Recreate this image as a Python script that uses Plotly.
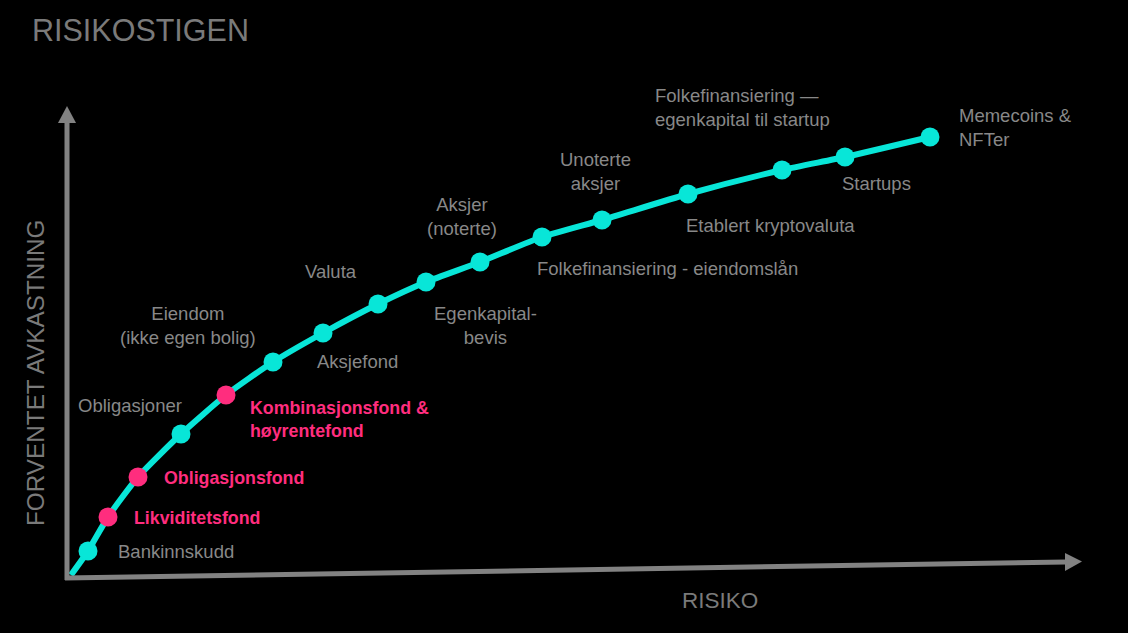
import plotly.graph_objects as go

# ---- data (risk, expected return) in arbitrary units ----
names = ["Bankinnskudd", "Likviditetsfond", "Obligasjonsfond", "Obligasjoner",
         "Kombinasjonsfond &<br>høyrentefond", "Eiendom<br>(ikke egen bolig)", "Aksjefond",
         "Valuta", "Egenkapital-<br>bevis", "Aksjer<br>(noterte)",
         "Folkefinansiering - eiendomslån", "Unoterte<br>aksjer", "Etablert kryptovaluta",
         "Folkefinansiering —<br>egenkapital til startup", "Startups", "Memecoins &<br>NFTer"]
risk = [21, 41, 71, 114, 159, 206, 256, 311, 359, 413, 475, 535, 621, 715, 778, 863]
ret = [27, 61, 101, 144, 183, 216, 245, 274, 296, 316, 341, 358, 384, 408, 421, 441]
highlight = [False, True, True, False, True, False, False, False, False, False,
             False, False, False, False, False, False]
origin_risk = [4]
origin_ret = [3]

# ---- styles ----
CYAN = "#08E6D8"
PINK = "#FF2D7E"
GREY_TXT = "#888888"
AXIS = "#828282"
FONT = "Liberation Sans, Arial, sans-serif"

# label placement: (xanchor, xshift, yshift, align)
label_pos = [("left", 28, 0, "left"), ("left", 24, -1, "left"), ("left", 24, -1, "left"),
             ("right", 3, 29, "right"), ("left", 22, -24, "left"), ("center", -85, 37, "center"),
             ("left", -8, -28, "left"), ("center", -47, 33, "center"), ("center", 59, -43, "center"),
             ("center", -18, 46, "center"), ("left", -7, -31, "left"), ("center", -7, 49, "center"),
             ("left", -4, -31, "left"), ("left", -129, 63, "left"), ("left", -5, -26, "left"),
             ("left", 27, 10, "left")]

fig = go.Figure()

fig.add_trace(go.Scatter(
    x=origin_risk + risk, y=origin_ret + ret, mode="lines",
    line=dict(color=CYAN, width=6, shape="spline", smoothing=0.6),
    hoverinfo="skip", showlegend=False))

fig.add_trace(go.Scatter(
    x=risk, y=ret, mode="markers",
    marker=dict(size=19, color=[PINK if h else CYAN for h in highlight], line=dict(width=0)),
    text=[n.replace("<br>", " ") for n in names], hoverinfo="text", showlegend=False))

annotations = []
for n, xv, yv, h, (xa, xs, ys, al) in zip(names, risk, ret, highlight, label_pos):
    annotations.append(dict(
        x=xv, y=yv, xref="x", yref="y", text=f"<b>{n}</b>" if h else n,
        showarrow=False, xanchor=xa, yanchor="middle", xshift=xs, yshift=ys, align=al,
        font=dict(family=FONT, size=17.8 if h else 18.5, color=PINK if h else GREY_TXT)))

# titles
annotations.append(dict(x=30 / 1128, y=1 - 30 / 633, xref="paper", yref="paper",
                        text="RISIKOSTIGEN", showarrow=False, xanchor="left", yanchor="middle",
                        font=dict(family=FONT, size=30.5, color="#7a7a7a")))
annotations.append(dict(x=720 / 1128, y=1 - 600 / 633, xref="paper", yref="paper",
                        text="RISIKO", showarrow=False, xanchor="center", yanchor="middle",
                        font=dict(family=FONT, size=22.5, color="#7a7a7a")))
annotations.append(dict(x=35 / 1128, y=1 - 373 / 633, xref="paper", yref="paper",
                        text="FORVENTET AVKASTNING", showarrow=False, textangle=-90,
                        xanchor="center", yanchor="middle",
                        font=dict(family=FONT, size=24.3, color="#7a7a7a")))

shapes = [
    # y axis arrow
    dict(type="line", x0=0, y0=-2, x1=0, y1=456, xref="x", yref="y",
         line=dict(color=AXIS, width=5)),
    dict(type="path", path="M -9,455 L 9,455 L 0,472 Z", xref="x", yref="y",
         fillcolor=AXIS, line=dict(width=0)),
    # x axis arrow
    dict(type="line", x0=-2, y0=0, x1=999, y1=16, xref="x", yref="y",
         line=dict(color=AXIS, width=5)),
    dict(type="path", path="M 998,25 L 998,7 L 1015,16.5 Z", xref="x", yref="y",
         fillcolor=AXIS, line=dict(width=0)),
]

fig.update_layout(
    width=1128, height=633,
    margin=dict(l=0, r=0, t=0, b=0),
    paper_bgcolor="#000000", plot_bgcolor="#000000",
    xaxis=dict(range=[-67, 1061], visible=False, fixedrange=True),
    yaxis=dict(range=[-55, 578], visible=False, fixedrange=True),
    annotations=annotations, shapes=shapes,
    font=dict(family=FONT),
)

fig.write_html("out.html", config={"displayModeBar": False},
               post_script="document.body.style.margin='0';"
                           "document.body.style.background='#000';"
                           "document.documentElement.style.background='#000';")
